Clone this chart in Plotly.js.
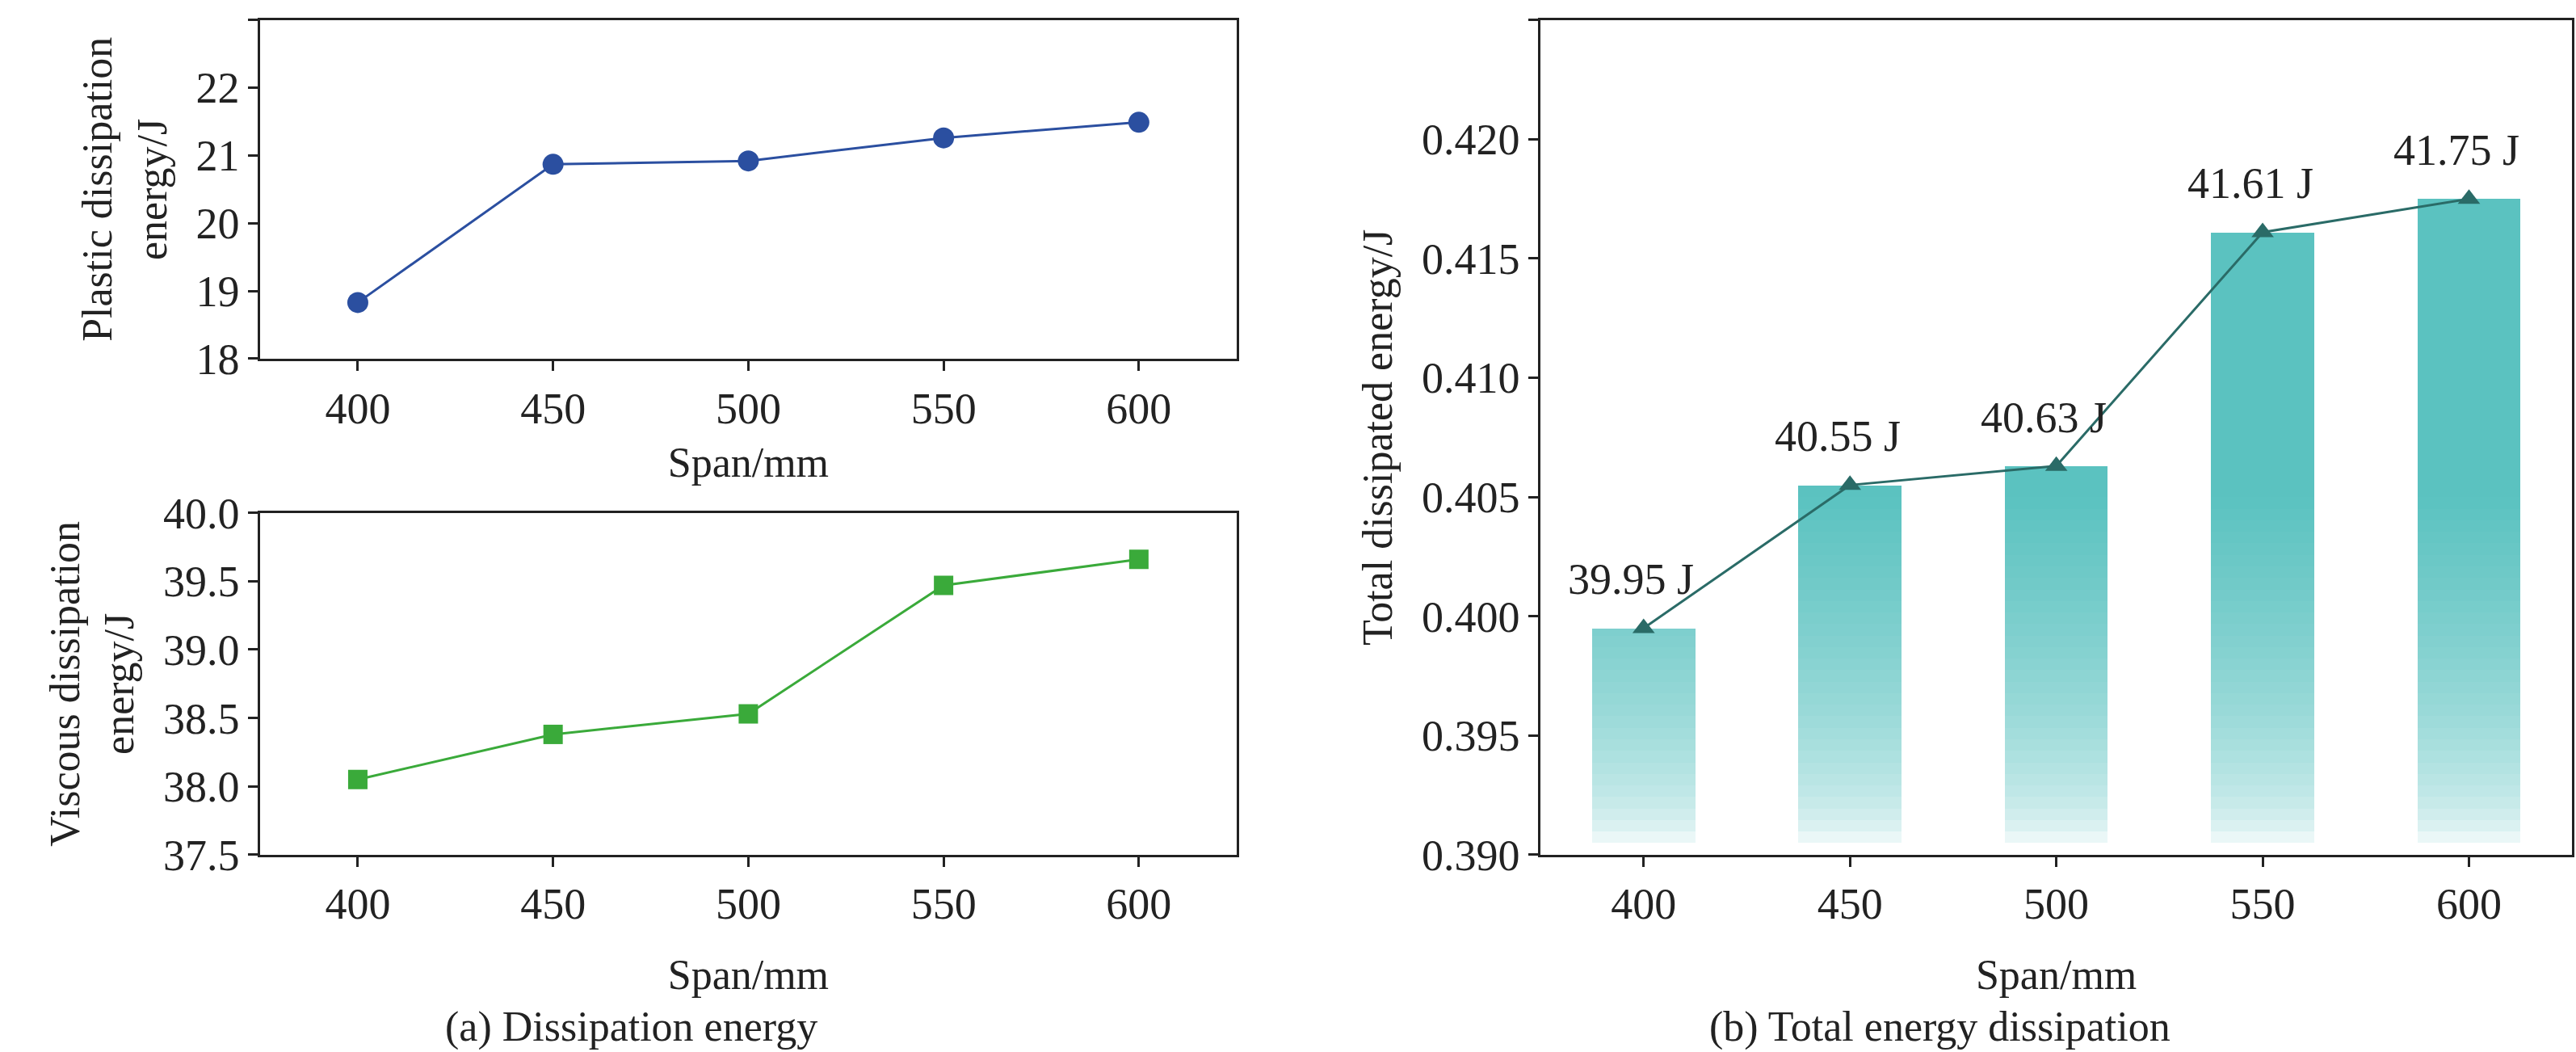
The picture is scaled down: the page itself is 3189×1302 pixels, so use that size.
<!DOCTYPE html>
<html>
<head>
<meta charset="utf-8">
<script src="https://cdn.plot.ly/plotly-3.0.1.min.js"></script>
<style>body{margin:0;background:#fff}</style>
</head>
<body>
<div id="chart" style="width:3189px;height:1302px"></div>
<script>
const spans = [400, 450, 500, 550, 600];
const plasticEnergy = [18.83, 20.87, 20.92, 21.26, 21.49];
const viscousEnergy = [38.05, 38.38, 38.53, 39.47, 39.66];
const totalScaled = [0.3995, 0.4055, 0.4063, 0.4161, 0.4175];
const totalLabels = ['39.95 J', '40.55 J', '40.63 J', '41.61 J', '41.75 J'];

const font = 'Liberation Serif, Times New Roman, serif';
const axisBase = {
  showline: true, mirror: true, linecolor: '#222', linewidth: 2.5, automargin: false,
  ticks: 'outside', ticklen: 12, tickwidth: 2.5, tickcolor: '#222',
  showgrid: false, zeroline: false,
  tickfont: {family: font, size: 54, color: '#222'}
};
const titleFont = {family: font, size: 52, color: '#222'};

const traces = [
  {x: spans, y: plasticEnergy, type: 'scatter', mode: 'lines+markers', xaxis: 'x', yaxis: 'y',
   line: {color: '#2b4fa0', width: 3}, marker: {color: '#2b4fa0', size: 26, symbol: 'circle'}},
  {x: spans, y: viscousEnergy, type: 'scatter', mode: 'lines+markers', xaxis: 'x2', yaxis: 'y2',
   line: {color: '#3aaa3a', width: 3}, marker: {color: '#3aaa3a', size: 24, symbol: 'square'}}
];

// gradient bars: slices fading from teal to white towards the bottom
const base0 = 0.3905, fadeTop = 0.405, steps = 30;
const h = (fadeTop - base0) / steps;
const teal = [91, 194, 192];
function mix(t) {
  const c = teal.map(v => Math.round(255 + (v - 255) * t));
  return `rgb(${c[0]},${c[1]},${c[2]})`;
}
for (let k = 0; k <= steps; k++) {
  const b = base0 + k * h;
  const isTop = k === steps;
  const ys = totalScaled.map(v => Math.max(0, (isTop ? v : Math.min(v, b + h)) - b));
  const t = Math.min(1, (k + 0.5) / steps);
  traces.push({x: spans, y: ys, base: b, type: 'bar', width: 25, xaxis: 'x3', yaxis: 'y3',
    marker: {color: mix(Math.sqrt(t)), line: {width: 0}}, hoverinfo: 'skip'});
}
traces.push({x: spans, y: totalScaled, type: 'scatter', mode: 'lines+markers', xaxis: 'x3', yaxis: 'y3',
  line: {color: '#2a6b67', width: 3}, marker: {color: '#2a6b67', size: 24, symbol: 'triangle-up'}});

const labelNotes = spans.map((s, i) => ({
  text: totalLabels[i], x: s - 3, y: totalScaled[i], xref: 'x3', yref: 'y3',
  yanchor: 'bottom', yshift: 28, showarrow: false, font: {family: font, size: 54, color: '#222'}
}));

const layout = {
  width: 3189, height: 1302, showlegend: false, barmode: 'overlay', bargap: 0,
  margin: {l: 0, r: 0, t: 0, b: 0}, paper_bgcolor: '#fff', plot_bgcolor: '#fff',
  xaxis: Object.assign({}, axisBase, {domain: [0.101, 0.48], range: [375, 625], tickvals: spans, anchor: 'y',
    title: {text: 'Span/mm', font: titleFont, standoff: 20}}),
  yaxis: Object.assign({}, axisBase, {domain: [0.659, 0.981], range: [18, 23], dtick: 1, anchor: 'x',
    title: {text: 'Plastic dissipation<br>energy/J', font: titleFont, standoff: 20}}),
  xaxis2: Object.assign({}, axisBase, {domain: [0.101, 0.48], range: [375, 625], tickvals: spans, anchor: 'y2',
    title: {text: 'Span/mm', font: titleFont, standoff: 40}}),
  yaxis2: Object.assign({}, axisBase, {domain: [0.1875, 0.5125], range: [37.5, 40], dtick: 0.5, tickformat: '.1f', anchor: 'x2',
    title: {text: 'Viscous dissipation<br>energy/J', font: titleFont, standoff: 20}}),
  xaxis3: Object.assign({}, axisBase, {domain: [0.598, 0.9985], range: [375, 625], tickvals: spans, anchor: 'y3',
    title: {text: 'Span/mm', font: titleFont, standoff: 40}}),
  yaxis3: Object.assign({}, axisBase, {domain: [0.1875, 0.981], range: [0.39, 0.425], dtick: 0.005, tickformat: '.3f', anchor: 'x3',
    title: {text: 'Total dissipated energy/J', font: titleFont, standoff: 20}}),
  annotations: labelNotes.concat([
    {text: '(a) Dissipation energy', x: 0.245, y: 0.0, xref: 'paper', yref: 'paper', xanchor: 'center', yanchor: 'bottom',
     showarrow: false, font: titleFont},
    {text: '(b) Total energy dissipation', x: 0.753, y: 0.0, xref: 'paper', yref: 'paper', xanchor: 'center', yanchor: 'bottom',
     showarrow: false, font: titleFont}
  ])
};

Plotly.newPlot('chart', traces, layout, {displayModeBar: false});
</script>
</body>
</html>
